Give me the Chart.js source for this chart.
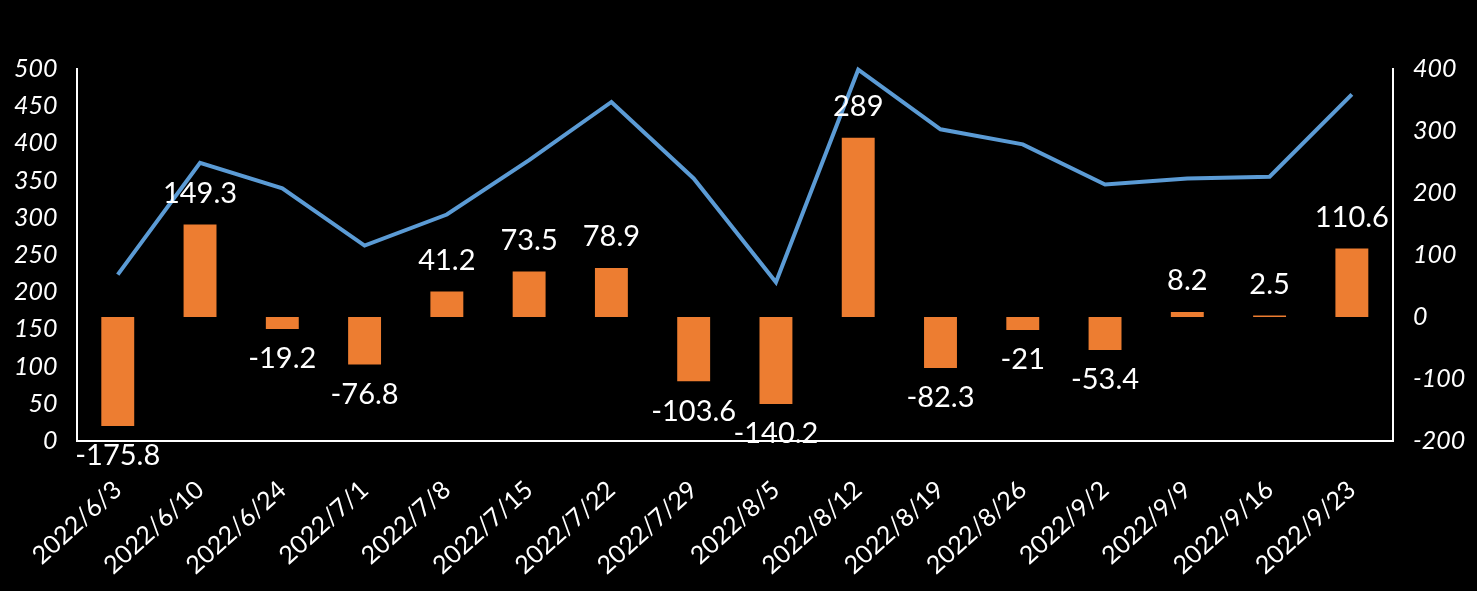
<!DOCTYPE html>
<html>
<head>
<meta charset="utf-8">
<script src="https://cdn.jsdelivr.net/npm/chart.js@4.4.1/dist/chart.umd.min.js"></script>
<style>
  html, body { margin: 0; padding: 0; background: #000; }
  #wrap { width: 1477px; height: 591px; background: #000; }
</style>
</head>
<body>
<div id="wrap"><canvas id="c" width="1477" height="591"></canvas></div>
<script>
const categories = ['2022/6/3','2022/6/10','2022/6/24','2022/7/1','2022/7/8','2022/7/15','2022/7/22','2022/7/29','2022/8/5','2022/8/12','2022/8/19','2022/8/26','2022/9/2','2022/9/9','2022/9/16','2022/9/23'];
const barValues = [-175.8, 149.3, -19.2, -76.8, 41.2, 73.5, 78.9, -103.6, -140.2, 289, -82.3, -21, -53.4, 8.2, 2.5, 110.6];
const lineValues = [223.6, 374, 339.5, 262.7, 304.4, 377.6, 455.7, 352.9, 213.3, 499, 419, 398.7, 344.8, 352.9, 355.2, 466];
const leftTicks = [0, 50, 100, 150, 200, 250, 300, 350, 400, 450, 500];
const rightTicks = [-200, -100, 0, 100, 200, 300, 400];

const FONT = 'Lato, "Open Sans", sans-serif';

const barLabels = {
  id: 'barLabels',
  afterDatasetsDraw(chart) {
    const meta = chart.getDatasetMeta(1);
    const ctx = chart.ctx;
    ctx.save();
    ctx.font = '29px ' + FONT;
    ctx.fillStyle = '#ffffff';
    ctx.textAlign = 'center';
    ctx.textBaseline = 'middle';
    meta.data.forEach((bar, i) => {
      const v = barValues[i];
      const y = v >= 0 ? bar.y - 31 : bar.y + 30;
      ctx.fillText(String(v), bar.x, y);
    });
    ctx.restore();
  }
};

function draw() {
  new Chart(document.getElementById('c'), {
    type: 'bar',
    data: {
      labels: categories,
      datasets: [
        {
          type: 'line',
          data: lineValues,
          yAxisID: 'yL',
          borderColor: '#5B9BD5',
          backgroundColor: '#5B9BD5',
          borderWidth: 4,
          pointRadius: 0,
          tension: 0,
          order: 0,
          clip: false
        },
        {
          type: 'bar',
          data: barValues,
          yAxisID: 'yR',
          backgroundColor: '#ED7D31',
          borderWidth: 0,
          barPercentage: 0.4,
          categoryPercentage: 1,
          order: 1
        }
      ]
    },
    options: {
      responsive: false,
      animation: false,
      layout: { padding: { top: 69, left: 0, right: 0, bottom: 0 } },
      plugins: { legend: { display: false }, tooltip: { enabled: false } },
      scales: {
        x: {
          offset: true,
          grid: { display: false, drawTicks: false },
          border: { display: true, color: '#ffffff', width: 2 },
          ticks: {
            color: '#ffffff',
            font: { family: FONT, size: 25 },
            minRotation: 42,
            maxRotation: 42,
            padding: 34,
            autoSkip: false
          },
          afterFit(s) { s.height = 150; }
        },
        yL: {
          position: 'left',
          min: 0, max: 500,
          grid: { display: false, drawTicks: false },
          border: { display: true, color: '#ffffff', width: 2 },
          afterBuildTicks(s) { s.ticks = leftTicks.map(v => ({ value: v })); },
          ticks: {
            color: '#ffffff',
            font: { family: FONT, size: 25, style: 'italic' },
            padding: 19
          },
          afterFit(s) { s.width = 74; }
        },
        yR: {
          position: 'right',
          min: -200, max: 400,
          grid: { display: false, drawTicks: false },
          border: { display: true, color: '#ffffff', width: 2 },
          afterBuildTicks(s) { s.ticks = rightTicks.map(v => ({ value: v })); },
          ticks: {
            color: '#ffffff',
            font: { family: FONT, size: 25, style: 'italic' },
            padding: 20
          },
          afterFit(s) { s.width = 84; }
        }
      }
    },
    plugins: [barLabels]
  });
}

if (document.fonts && document.fonts.load) {
  Promise.all([
    document.fonts.load('25px Lato'),
    document.fonts.load('italic 25px Lato')
  ]).then(draw, draw);
} else {
  draw();
}
</script>
</body>
</html>
